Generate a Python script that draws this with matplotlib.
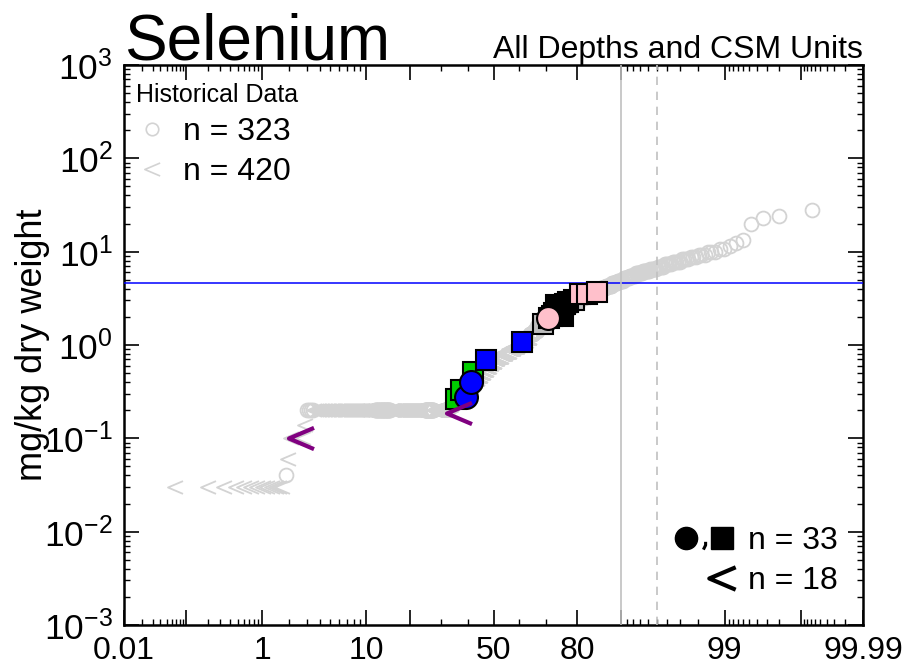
"""
Probability plot of selenium concentrations (mg/kg dry weight).

Historical data are drawn in light grey behind the current samples,
nondetects are drawn as '<' marks. The x axis is a normal probability
scale in percent.
"""

from statistics import NormalDist

import numpy as np
import matplotlib
matplotlib.use('Agg')
import matplotlib.pyplot as plt
from matplotlib.lines import Line2D
from matplotlib.markers import MarkerStyle
from matplotlib.path import Path
from matplotlib.legend_handler import HandlerTuple
from matplotlib.ticker import FixedLocator, FixedFormatter, LogLocator, NullFormatter

plt.rcParams['font.family'] = ['Liberation Sans', 'DejaVu Sans']
plt.rcParams['mathtext.fontset'] = 'custom'
plt.rcParams['mathtext.rm'] = 'Liberation Sans'
plt.rcParams['mathtext.it'] = 'Liberation Sans:italic'
plt.rcParams['mathtext.bf'] = 'Liberation Sans:bold'

# historical results, sorted, as groups of (value, count, nondetect flag)
hist_values = [0.03, 0.04, 0.06, 0.10, 0.14,
               0.2, 0.2, 0.2, 0.2, 0.2, 0.2,
               0.21, 0.22, 0.23, 0.24, 0.25, 0.26, 0.27, 0.28,
               0.30, 0.33, 0.36, 0.40, 0.43, 0.46,
               0.50, 0.54, 0.58, 0.62, 0.66, 0.70,
               0.75, 0.80, 0.85, 0.90, 0.96, 1.0, 1.1, 1.2, 1.3, 1.4,
               1.6, 1.7, 1.8, 1.9, 2.0, 2.2, 2.4, 2.6, 2.9, 3.2, 3.5,
               3.7, 3.9, 4.1, 4.3, 4.6, 4.9,
               5.2, 5.5, 5.9, 6.2, 6.6,
               6.9, 7.3, 7.8, 8.4,
               8.8, 9.3, 9.9, 10.6,
               11.5, 12.4, 13.3, 20, 23, 24, 28]
hist_counts = [13, 1, 1, 6, 1,
               4, 60, 25, 70, 22, 30,
               5, 5, 5, 5, 6, 5, 5, 5,
               10, 10, 10, 10, 9, 9,
               9, 9, 8, 8, 8, 8,
               12, 12, 12, 12, 12, 12, 12, 11, 11, 10,
               11, 11, 11, 11, 11, 11, 11, 11, 11, 11, 12,
               9, 9, 9, 9, 8, 8,
               7, 7, 7, 7, 6,
               5, 5, 5, 4,
               3, 3, 3, 2,
               1, 1, 1, 1, 1, 1, 1]
hist_nd = [1, 0, 1, 1, 1,
           0, 1, 0, 1, 0, 1,
           1, 1, 1, 1, 1, 1, 1, 1,
           1, 1, 1, 1, 1, 1,
           1, 1, 1, 1, 1, 1,
           1, 1, 1, 1, 1, 1, 1, 1, 0, 0,
           0, 0, 0, 0, 0, 0, 0, 0, 0, 0, 0,
           0, 0, 0, 0, 0, 0,
           0, 0, 0, 0, 0,
           0, 0, 0, 0,
           0, 0, 0, 0,
           0, 0, 0, 0, 0, 0, 0]

# current samples (percentile, value), in drawing order
cur_pct = [35.2, 37.2, 41.8, 39.1, 40.9, 46.9, 61.2, 69.1, 79.1,
           71.2, 72.2, 73.0, 73.9, 74.7, 75.5, 76.4, 77.3, 73.5, 75.8,
           70.9, 80.8, 82.7, 85.2]
cur_vals = [0.264, 0.33, 0.514, 0.279, 0.40, 0.686, 1.085, 1.68, 3.04,
            1.95, 2.06, 2.18, 2.31, 2.44, 2.58, 2.73, 2.89, 2.68, 2.05,
            1.96, 3.52, 3.56, 3.70]
cur_shape = ['s', 's', 's', 'o', 'o', 's', 's', 's', 's',
             's', 's', 's', 's', 's', 's', 's', 's', 's', 's',
             'o', 's', 's', 's']
cur_color = ['#00CD00', '#00CD00', '#00CD00', 'blue', 'blue', 'blue', 'blue',
             '#BEBEBE', '#BEBEBE',
             'black', 'black', 'black', 'black', 'black', 'black', 'black',
             'black', 'black', 'black',
             'pink', 'pink', 'pink', 'pink']

# current nondetects
cur_nd_pct = [2.61, 36.6]
cur_nd_vals = [0.101, 0.187]

screening_level = 4.6
ref_pct = [90, 95]

x_major = [0.01, 0.1, 1, 10, 20, 50, 80, 90, 99, 99.9, 99.99]
x_labels = ['0.01', '', '1', '10', '', '50', '80', '', '99', '', '99.99']
x_minor = ([0.02, 0.03, 0.04, 0.05, 0.06, 0.07, 0.08, 0.09]
           + [0.2, 0.3, 0.4, 0.5, 0.6, 0.7, 0.8, 0.9]
           + [2, 3, 4, 5, 6, 7, 8, 9, 30, 40, 60, 70]
           + [91, 92, 93, 94, 95, 96, 97, 98]
           + [99.1, 99.2, 99.3, 99.4, 99.5, 99.6, 99.7, 99.8]
           + [99.91, 99.92, 99.93, 99.94, 99.95, 99.96, 99.97, 99.98])

GREY = '#D3D3D3'
_norm = NormalDist()


def prob_forward(p):
    """Percent -> standard normal quantile."""
    p = np.clip(np.asarray(p, dtype=float) / 100.0, 1e-12, 1 - 1e-12)
    return np.vectorize(_norm.inv_cdf, otypes=[float])(p)


def prob_inverse(z):
    """Standard normal quantile -> percent."""
    z = np.asarray(z, dtype=float)
    return np.vectorize(_norm.cdf, otypes=[float])(z) * 100.0


# open chevron used for the '<' (nondetect) symbol
chevron = MarkerStyle(Path([(1, 0.85), (-1, 0), (1, -0.85)],
                           [Path.MOVETO, Path.LINETO, Path.LINETO]),
                      joinstyle='miter')
# small comma sitting below the marker centre line (legend only)
comma = MarkerStyle(Path([(0.1, -0.3), (0.1, -0.6), (-0.1, -1.0)],
                         [Path.MOVETO, Path.LINETO, Path.LINETO]))


def main():
    vals = np.repeat(hist_values, hist_counts)
    nd = np.repeat(hist_nd, hist_counts).astype(bool)
    n = len(vals)
    pct = (np.arange(1, n + 1) - 0.5) / n * 100.0

    fig = plt.figure(figsize=(9.07, 6.72), dpi=100)
    ax = fig.add_axes([124 / 907, 47 / 672, 739 / 907, 560 / 672])
    ax.set_xscale('function', functions=(prob_forward, prob_inverse))
    ax.set_yscale('log')
    ax.set_xlim(0.01, 99.99)
    ax.set_ylim(1e-3, 1e3)

    # historical data
    ax.plot(pct[~nd], vals[~nd], ls='none', marker='o', ms=10,
            mfc='none', mec=GREY, mew=1.3, zorder=2)
    ax.plot(pct[nd], vals[nd], ls='none', marker=chevron, ms=10.8,
            mfc='none', mec=GREY, mew=1.3, zorder=2)

    # reference lines
    ax.axhline(screening_level, color='blue', lw=1.1, zorder=3)
    ax.axvline(ref_pct[0], color='#C0C0C0', lw=1.2, zorder=3)
    ax.axvline(ref_pct[1], color='#C0C0C0', lw=1.2, ls=(0, (5, 4)), zorder=3)

    # current data
    for p, v, m, c in zip(cur_pct, cur_vals, cur_shape, cur_color):
        size = 16.5 if m == 'o' else 15
        ax.plot([p], [v], ls='none', marker=m, ms=size, mfc=c, mec='black',
                mew=1.5, zorder=4)
    ax.plot(cur_nd_pct, cur_nd_vals, ls='none', marker=chevron, ms=18,
            mfc='none', mec='purple', mew=3, zorder=5)

    # axes styling
    ax.xaxis.set_major_locator(FixedLocator(x_major))
    ax.xaxis.set_major_formatter(FixedFormatter(x_labels))
    ax.xaxis.set_minor_locator(FixedLocator(x_minor))
    ax.xaxis.set_minor_formatter(NullFormatter())
    ax.yaxis.set_major_locator(LogLocator(base=10, numticks=10))
    ax.yaxis.set_minor_locator(LogLocator(base=10, subs=np.arange(2, 10), numticks=20))
    ax.yaxis.set_minor_formatter(NullFormatter())
    ax.tick_params(which='both', direction='in', top=True, right=True)
    ax.tick_params(which='major', length=11, width=1.2, pad=8)
    ax.tick_params(which='minor', length=4.5, width=1.0)
    ax.tick_params(axis='x', which='major', labelsize=23)
    ax.tick_params(axis='y', which='major', labelsize=25.5)
    for sp in ax.spines.values():
        sp.set_linewidth(1.8)

    ax.text(0, 1.009, 'Selenium', transform=ax.transAxes, ha='left',
            va='baseline', fontsize=46)
    ax.text(1, 1.0125, 'All Depths and CSM Units', transform=ax.transAxes,
            ha='right', va='baseline', fontsize=23)
    ax.set_ylabel('mg/kg dry weight', fontsize=26)
    ax.yaxis.set_label_coords(-0.1, 0.5)

    # historical legend
    h_circ = Line2D([], [], ls='none', marker='o', ms=9, mfc='none', mec=GREY, mew=1.2)
    h_lt = Line2D([], [], ls='none', marker=chevron, ms=11, mfc='none', mec=GREY, mew=1.2)
    leg1 = ax.legend([h_circ, h_lt], ['n = 323', 'n = 420'], title='Historical Data',
                     loc='upper left', bbox_to_anchor=(0, 0.989), borderaxespad=0,
                     borderpad=0.375, frameon=False, fontsize=23, title_fontsize=18,
                     alignment='left', handlelength=1.0, handletextpad=0.47,
                     labelspacing=0.31, numpoints=1)
    ax.add_artist(leg1)

    # current legend
    c_circ = Line2D([], [], ls='none', marker='o', ms=16, mfc='black', mec='black')
    c_comma = Line2D([], [], ls='none', marker=comma, ms=16, mfc='none',
                     mec='black', mew=2.2)
    c_sq = Line2D([], [], ls='none', marker='s', ms=16, mfc='black', mec='black')
    blank1 = Line2D([], [], ls='none')
    blank2 = Line2D([], [], ls='none')
    c_lt = Line2D([], [], ls='none', marker=chevron, ms=19, mfc='none', mec='black', mew=3)
    ax.legend([(c_circ, c_comma, c_sq), (blank1, blank2, c_lt)], ['n = 33', 'n = 18'],
              handler_map={tuple: HandlerTuple(ndivide=None, pad=0)},
              loc='lower right', bbox_to_anchor=(1 - 13 / 739, 17 / 560),
              borderaxespad=0, borderpad=0.375, frameon=False, fontsize=23,
              handlelength=1.7, handletextpad=0.53, labelspacing=0.31, numpoints=1)

    fig.savefig('out.png', dpi=100)


if __name__ == '__main__':
    main()
